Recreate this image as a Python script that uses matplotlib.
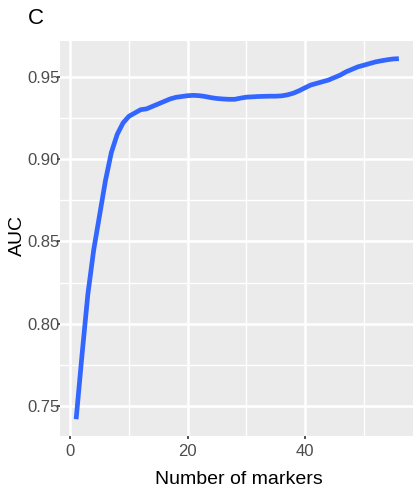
import matplotlib
matplotlib.use("Agg")
import matplotlib.pyplot as plt
from matplotlib.ticker import MultipleLocator

n_markers = list(range(1, 57))
auc = [0.742, 0.781, 0.818, 0.845, 0.866, 0.887, 0.904, 0.915, 0.922, 0.926,
       0.928, 0.930, 0.9305, 0.932, 0.9335, 0.935, 0.9365, 0.9375, 0.938, 0.9385,
       0.9387, 0.9385, 0.938, 0.9373, 0.9368, 0.9365, 0.9363, 0.9363, 0.937, 0.9376,
       0.9378, 0.938, 0.9381, 0.9382, 0.9382, 0.9384, 0.939, 0.940, 0.9415, 0.9433,
       0.945, 0.946, 0.947, 0.948, 0.9495, 0.951, 0.953, 0.9545, 0.956, 0.957,
       0.958, 0.959, 0.9597, 0.9603, 0.9608, 0.961]
x_ticks = [0, 20, 40]
y_ticks = [0.75, 0.80, 0.85, 0.90, 0.95]
y_ticklabels = ["0.75", "0.80", "0.85", "0.90", "0.95"]

plt.rcParams['font.family'] = ['Liberation Sans', 'DejaVu Sans']

W, H = 413, 495
fig = plt.figure(figsize=(W / 100, H / 100), dpi=100)
left, right, top, bottom = 60, 415, 40.7, 436
ax = fig.add_axes([left / W, 1 - bottom / H, (right - left) / W, (bottom - top) / H])
ax.set_facecolor('#EBEBEB')
for s in ax.spines.values():
    s.set_visible(False)

ax.set_xlim(-1.75, 58.75)
ax.set_ylim(0.7318, 0.9719)
ax.set_xticks(x_ticks)
ax.set_yticks(y_ticks)
ax.set_yticklabels(y_ticklabels)
ax.xaxis.set_minor_locator(MultipleLocator(10))
ax.yaxis.set_minor_locator(MultipleLocator(0.025))
ax.grid(which='major', color='white', linewidth=1.8)
ax.grid(which='minor', color='white', linewidth=1.0)
ax.set_axisbelow(True)
ax.tick_params(which='minor', length=0)
ax.tick_params(axis='x', which='major', length=2.2, width=1.2, color='#333333',
               labelsize=12, labelcolor='#4D4D4D', pad=3.2)
ax.tick_params(axis='y', which='major', length=2.2, width=1.2, color='#333333',
               labelsize=12, labelcolor='#4D4D4D', pad=-2.0)

ax.plot(n_markers, auc, color='#3366FF', linewidth=3.4, solid_capstyle='butt')

ax.set_xlabel('Number of markers', fontsize=14, color='black')
ax.set_ylabel('AUC', fontsize=14, color='black')
ax.xaxis.set_label_coords((239 - left) / (right - left), -(480 - bottom) / (bottom - top))
ax.xaxis.label.set_va('center')
ax.yaxis.set_label_coords(-(left - 17) / (right - left), (bottom - 236) / (bottom - top))
ax.yaxis.label.set_va('center')

fig.text(28 / W, 1 - 18.5 / H, 'C', fontsize=16, va='center', ha='left')

fig.savefig('out.png', dpi=100)
